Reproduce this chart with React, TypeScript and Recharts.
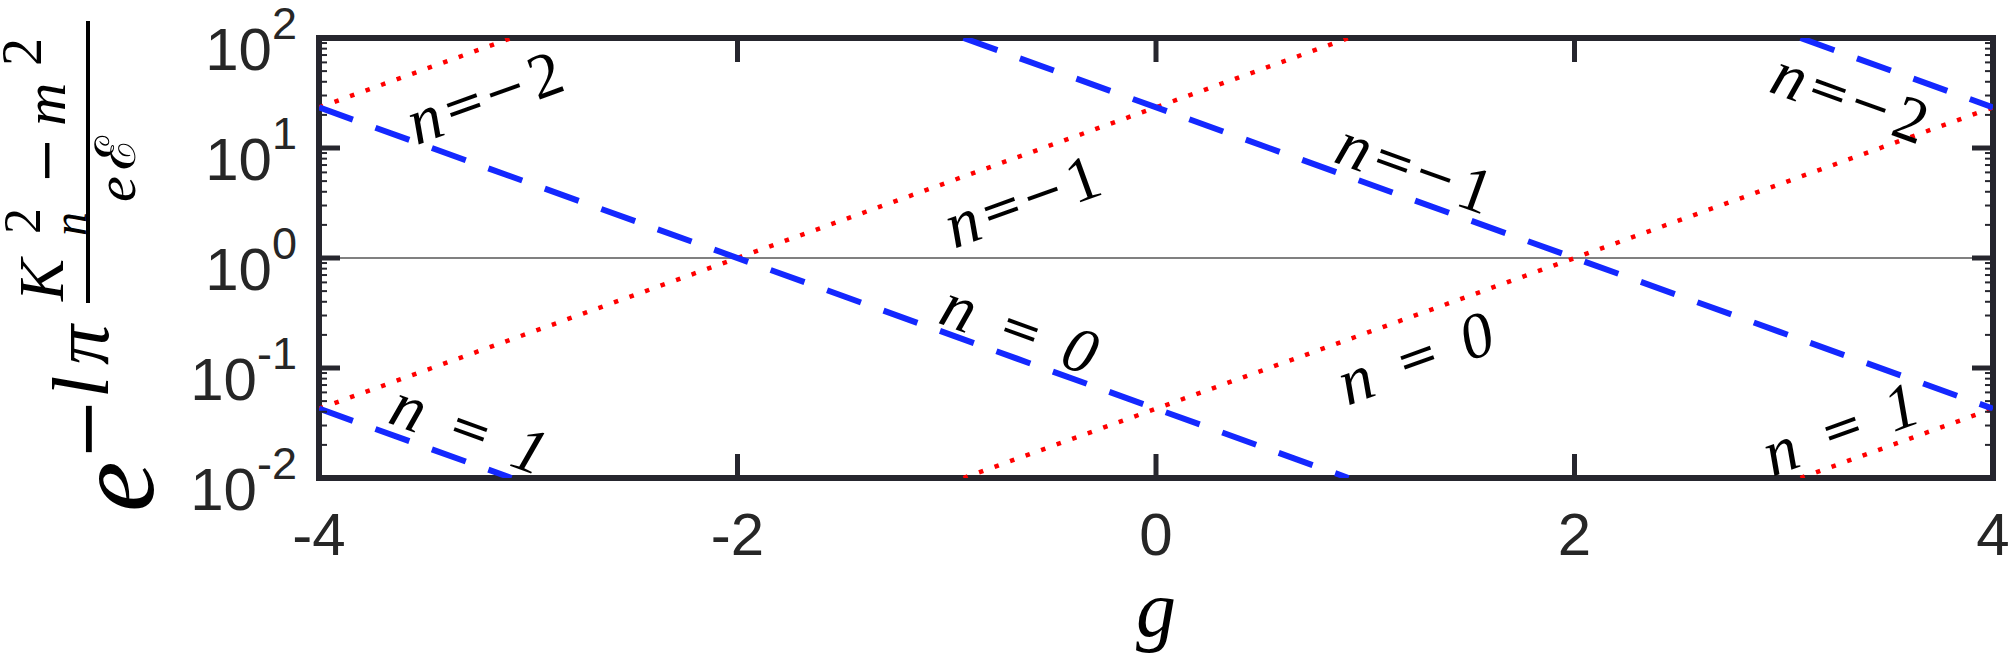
import React from "react";
import {
  LineChart,
  Line,
  XAxis,
  YAxis,
  ReferenceLine,
  ReferenceArea,
  ReferenceDot
} from "recharts";

// axis ticks
const xTicks = [-4, -2, 0, 2, 4];
const xTickLabels = ["-4", "-2", "0", "2", "4"];
const yMajorTicks = [0.01, 0.1, 1, 10, 100];
const yExponents = ["-2", "-1", "0", "1", "2"];
const yMinorTicks = [
  0.02, 0.03, 0.04, 0.05, 0.06, 0.07, 0.08, 0.09,
  0.2, 0.3, 0.4, 0.5, 0.6, 0.7, 0.8, 0.9,
  2, 3, 4, 5, 6, 7, 8, 9,
  20, 30, 40, 50, 60, 70, 80, 90
];

// blue dashed curves (end points)
const blueNm2 = [{ g: 3.08, v: 100 }, { g: 4, v: 23.4 }];
const blueNm1 = [{ g: -0.92, v: 100 }, { g: 4, v: 0.0427 }];
const blueN0 = [{ g: -4, v: 23.4 }, { g: 0.92, v: 0.01 }];
const blueN1 = [{ g: -4, v: 0.0427 }, { g: -3.08, v: 0.01 }];

// red dotted curves
const redNm2 = [{ g: -4, v: 23.4 }, { g: -3.08, v: 100 }];
const redNm1 = [{ g: -4, v: 0.0427 }, { g: 0.92, v: 100 }];
const redN0 = [{ g: -0.92, v: 0.01 }, { g: 4, v: 23.4 }];
const redN1 = [{ g: 3.08, v: 0.01 }, { g: 4, v: 0.0427 }];

// curve labels
const blueLabels = [
  { g: -3.28, v: 0.0285, n: "1" },
  { g: -0.65, v: 0.231, n: "0" },
  { g: 1.24, v: 6.7, n: "−1" },
  { g: 3.32, v: 29.1, n: "−2" }
];
const redLabels = [
  { g: -3.21, v: 29.5, n: "−2" },
  { g: -0.64, v: 3.37, n: "−1" },
  { g: 1.24, v: 0.126, n: "0" },
  { g: 3.27, v: 0.0285, n: "1" }
];

const W = 2014;
const H = 658;
const M = { top: 38, right: 21, bottom: 80, left: 19 };
const Y_AXIS_W = 300;
const X_AXIS_H = 100;
const PLOT_W = W - M.left - M.right - Y_AXIS_W;
const PLOT_H = H - M.top - M.bottom - X_AXIS_H;

const AXIS_COLOR = "#26262e";
const SERIF = "'Liberation Serif', 'Times New Roman', serif";
const MATH = "'DejaVu Serif', serif";
const SANS = "'Liberation Sans', Arial, Helvetica, sans-serif";
const SLOPE_DEG = 19.8;

const YTick = (props: any) => {
  const { x, y, payload } = props;
  const i = yMajorTicks.indexOf(payload.value);
  const len = i >= 0 ? 21 : 8;
  return (
    <g>
      <line x1={x} x2={x + len} y1={y} y2={y} stroke={AXIS_COLOR} strokeWidth={i >= 0 ? 5 : 2} />
      <line x1={x + PLOT_W - len} x2={x + PLOT_W} y1={y} y2={y} stroke={AXIS_COLOR} strokeWidth={i >= 0 ? 5 : 2} />
      {i >= 0 && (
        <text x={x - 22} y={y + 32} textAnchor="end" fontFamily={SANS} fill="#262626" fontSize={60}>
          <tspan>10</tspan>
          <tspan dy={-31} fontSize={45}>{yExponents[i]}</tspan>
        </text>
      )}
    </g>
  );
};

const XTick = (props: any) => {
  const { x, y, payload } = props;
  const i = xTicks.indexOf(payload.value);
  return (
    <g>
      <line x1={x} x2={x} y1={y} y2={y - 24} stroke={AXIS_COLOR} strokeWidth={5} />
      <line x1={x} x2={x} y1={y - PLOT_H} y2={y - PLOT_H + 24} stroke={AXIS_COLOR} strokeWidth={5} />
      <text x={x} y={y + 77} textAnchor="middle" fontFamily={SANS} fill="#262626" fontSize={60}>
        {xTickLabels[i]}
      </text>
    </g>
  );
};

const CurveLabel = ({ cx, cy, n, angle }: any) => {
  const neg = n.startsWith("−");
  return (
    <text
      x={cx}
      y={cy}
      transform={`rotate(${angle} ${cx} ${cy})`}
      textAnchor="middle"
      dominantBaseline="central"
      fill="#000"
    >
      <tspan fontFamily={SERIF} fontStyle="italic" fontSize={66}>n</tspan>
      <tspan dx={neg ? 4 : 28} fontFamily={MATH} fontSize={50}>=</tspan>
      {neg && <tspan dx={2} fontFamily={MATH} fontSize={50}>−</tspan>}
      <tspan dx={neg ? 6 : 26} fontFamily={SERIF} fontStyle={neg ? "normal" : "italic"} fontSize={64}>
        {neg ? n.slice(1) : n}
      </tspan>
    </text>
  );
};

// e^{-l pi (K_n^2 - m^2)/(e E)} written sideways
const YLabel = () => (
  <g transform="translate(0, 510) rotate(-90)" fill="#000">
    <text x={-2} y={153} fontFamily={SERIF} fontStyle="italic" fontSize={114}>e</text>
    <text x={50} y={112} fontFamily={MATH} fontSize={74}>−</text>
    <text x={112} y={108} fontFamily={SERIF} fontStyle="italic" fontSize={80}>l</text>
    <text x={145} y={108} fontFamily={SERIF} fontStyle="italic" fontSize={80}>π</text>
    <line x1={207} x2={489} y1={88} y2={88} stroke="#000" strokeWidth={4} />
    <text x={209} y={63} fontFamily={SERIF} fontStyle="italic" fontSize={63}>K</text>
    <text x={276} y={40} fontFamily={SERIF} fontSize={52}>2</text>
    <text x={274} y={86} fontFamily={SERIF} fontStyle="italic" fontSize={48}>n</text>
    <text x={326} y={65} fontFamily={MATH} fontSize={56}>−</text>
    <text x={384} y={65} fontFamily={SERIF} fontStyle="italic" fontSize={60}>m</text>
    <text x={444} y={41} fontFamily={SERIF} fontSize={56}>2</text>
    <text x={308} y={135} fontFamily={SERIF} fontStyle="italic" fontSize={58}>e</text>
    <text x={340} y={135} fontFamily={SERIF} fontSize={56}>ℰ</text>
  </g>
);

const XLabel = (props: any) => {
  const vb = props.viewBox || { x: M.left + Y_AXIS_W, y: M.top + PLOT_H, width: PLOT_W };
  return (
    <text x={vb.x + vb.width / 2} y={vb.y + 158} textAnchor="middle" fontFamily={SERIF} fontStyle="italic" fontSize={80} fill="#000">
      g
    </text>
  );
};

const blueStyle = { stroke: "#1428ff", strokeWidth: 6, strokeDasharray: "36 24" };
const redStyle = { stroke: "#ff0000", strokeWidth: 4.5, strokeDasharray: "4.5 12" };

export default function App() {
  const blues = [blueNm2, blueNm1, blueN0, blueN1];
  const reds = [redNm2, redNm1, redN0, redN1];
  return (
    <div style={{ position: "absolute", left: 0, top: 0, width: W, height: H, background: "#fff" }}>
      <LineChart width={W} height={H} margin={M}>
        <XAxis
          type="number"
          dataKey="g"
          domain={[-4, 4]}
          ticks={xTicks}
          interval={0}
          allowDataOverflow
          height={X_AXIS_H}
          axisLine={false}
          tickLine={false}
          tickSize={0}
          tickMargin={0}
          tick={<XTick />}
          label={<XLabel />}
        />
        <YAxis
          type="number"
          scale="log"
          domain={[0.01, 100]}
          ticks={[...yMajorTicks, ...yMinorTicks]}
          interval={0}
          allowDataOverflow
          width={Y_AXIS_W}
          axisLine={false}
          tickLine={false}
          tickSize={0}
          tickMargin={0}
          tick={<YTick />}
          label={<YLabel />}
        />
        <ReferenceLine y={1} stroke="#808080" strokeWidth={2} />
        {reds.map((d, i) => (
          <Line key={"r" + i} data={d} dataKey="v" type="linear" dot={false} activeDot={false} isAnimationActive={false} {...redStyle} />
        ))}
        {blues.map((d, i) => (
          <Line key={"b" + i} data={d} dataKey="v" type="linear" dot={false} activeDot={false} isAnimationActive={false} {...blueStyle} />
        ))}
        {blueLabels.map((l, i) => (
          <ReferenceDot
            key={"bl" + i}
            x={l.g}
            y={l.v}
            r={0}
            ifOverflow="visible"
            shape={(p: any) => <CurveLabel cx={p.cx} cy={p.cy} n={l.n} angle={SLOPE_DEG} />}
          />
        ))}
        {redLabels.map((l, i) => (
          <ReferenceDot
            key={"rl" + i}
            x={l.g}
            y={l.v}
            r={0}
            ifOverflow="visible"
            shape={(p: any) => <CurveLabel cx={p.cx} cy={p.cy} n={l.n} angle={-SLOPE_DEG} />}
          />
        ))}
        <ReferenceArea x1={-4} x2={4} y1={0.01} y2={100} fill="none" stroke={AXIS_COLOR} strokeWidth={6} ifOverflow="visible" />
      </LineChart>
    </div>
  );
}
